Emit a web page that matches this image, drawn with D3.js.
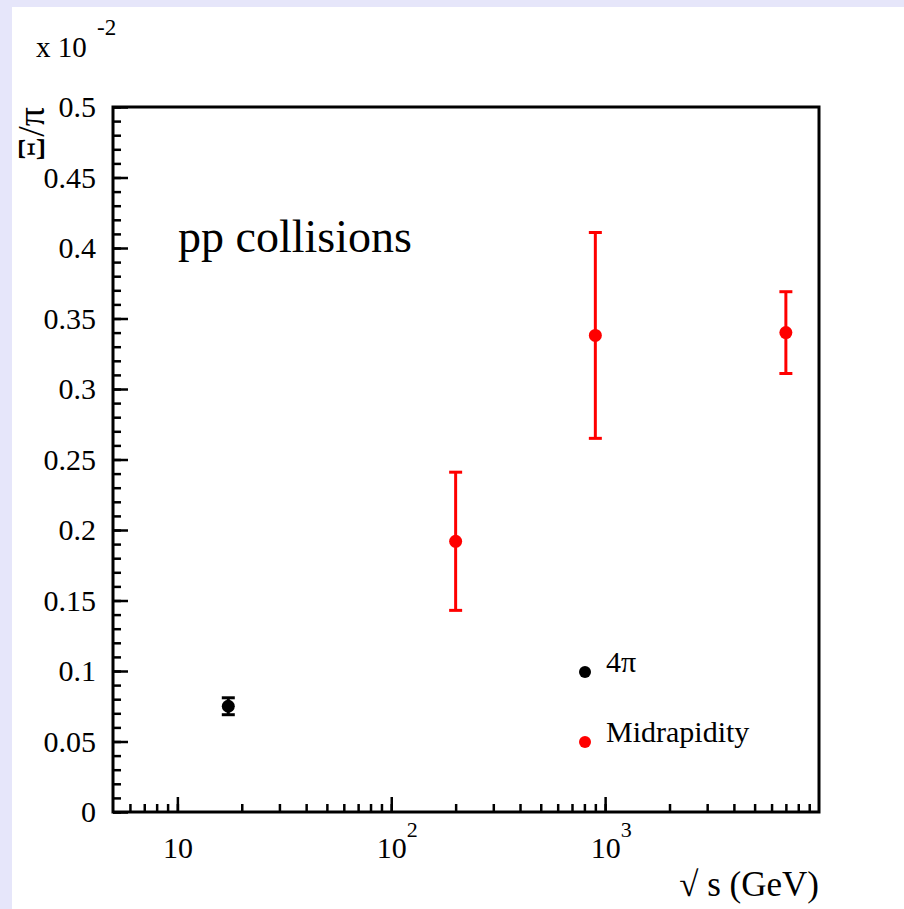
<!DOCTYPE html>
<html>
<head>
<meta charset="utf-8">
<script src="https://cdn.jsdelivr.net/npm/d3@7"></script>
<style>
  html, body { margin: 0; padding: 0; background: #e6e6fa; }
  svg { display: block; }
  text { font-family: "Liberation Serif", "Times New Roman", serif; fill: #000; }
</style>
</head>
<body>
<svg id="chart" width="904" height="909"></svg>
<script>
// ---- data ----
const blackEnergy = [17.3];
const blackValue = [0.075];
const blackError = [0.006];

const redEnergy = [200, 900, 7000];
const redValue = [0.192, 0.338, 0.340];
const redError = [0.049, 0.073, 0.029];

const xMajorTicks = [10, 100, 1000];
const xTickLabels = [["10", ""], ["10", "2"], ["10", "3"]];
const yTickValues = [0, 0.05, 0.1, 0.15, 0.2, 0.25, 0.3, 0.35, 0.4, 0.45, 0.5];
const yTickLabels = ["0", "0.05", "0.1", "0.15", "0.2", "0.25", "0.3", "0.35", "0.4", "0.45", "0.5"];

const legendLabels = ["4\u03c0", "Midrapidity"];
const legendColors = ["#000000", "#ff0000"];

// ---- layout ----
const svg = d3.select("#chart");
svg.append("rect").attr("x", 12).attr("y", 7).attr("width", 892).attr("height", 902).attr("fill", "#ffffff");

const L = 113, R = 819, T = 107, B = 812;
const x = d3.scaleLog().domain([5, 10000]).range([L, R]);
const y = d3.scaleLinear().domain([0, 0.5]).range([B, T]);

// y minor ticks
const yMinor = d3.range(0, 51).map(d => d / 100);
svg.append("g").attr("transform", `translate(${L},0)`)
  .call(d3.axisLeft(y).tickValues(yMinor).tickSize(-8).tickFormat(""))
  .call(g => g.select(".domain").remove())
  .call(g => g.selectAll("line").attr("stroke-width", 2.5));

// y major ticks with labels
svg.append("g").attr("transform", `translate(${L},0)`)
  .call(d3.axisLeft(y).tickValues(yTickValues).tickSize(-15).tickPadding(17)
    .tickFormat((d, i) => yTickLabels[i]))
  .call(g => g.select(".domain").remove())
  .call(g => g.selectAll("line").attr("stroke-width", 2.5))
  .call(g => g.selectAll("text").attr("font-size", 30).attr("font-family", "Liberation Serif"));

// x minor ticks
const xMinor = x.ticks().filter(d => d > 5 && d < 10000);
svg.append("g").attr("transform", `translate(0,${B})`)
  .call(d3.axisBottom(x).tickValues(xMinor).tickSize(-8).tickFormat(""))
  .call(g => g.select(".domain").remove())
  .call(g => g.selectAll("line").attr("stroke-width", 2.5));

// x major ticks
const xAx = svg.append("g").attr("transform", `translate(0,${B})`)
  .call(d3.axisBottom(x).tickValues(xMajorTicks).tickSize(-15).tickFormat((d, i) => xTickLabels[i][0]))
  .call(g => g.select(".domain").remove())
  .call(g => g.selectAll("line").attr("stroke-width", 2.5));
xAx.selectAll(".tick text")
  .attr("font-size", 30).attr("font-family", "Liberation Serif")
  .attr("y", 46).attr("dy", 0);
xAx.selectAll(".tick").each(function(d, i) {
  if (xTickLabels[i][1]) {
    d3.select(this).append("text")
      .attr("x", 15).attr("y", 25)
      .attr("font-size", 22).attr("font-family", "Liberation Serif")
      .attr("text-anchor", "start").attr("fill", "#000")
      .text(xTickLabels[i][1]);
  }
});

// frame
svg.append("rect").attr("x", L).attr("y", T).attr("width", R - L).attr("height", B - T)
  .attr("fill", "none").attr("stroke", "#000").attr("stroke-width", 3);

// error bars + points
function drawSeries(xs, vs, es, color) {
  const g = svg.append("g");
  xs.forEach((e, i) => {
    const cx = x(e), y1 = y(vs[i] + es[i]), y0 = y(vs[i] - es[i]);
    g.append("line").attr("x1", cx).attr("x2", cx).attr("y1", y1).attr("y2", y0)
      .attr("stroke", color).attr("stroke-width", 3);
    [y1, y0].forEach(yy => g.append("line").attr("x1", cx - 6.5).attr("x2", cx + 6.5)
      .attr("y1", yy).attr("y2", yy).attr("stroke", color).attr("stroke-width", 3));
    g.append("circle").attr("cx", cx).attr("cy", y(vs[i])).attr("r", 6.5).attr("fill", color);
  });
}
drawSeries(blackEnergy, blackValue, blackError, "#000000");
drawSeries(redEnergy, redValue, redError, "#ff0000");

// legend
legendLabels.forEach((lab, i) => {
  const ly = 672 + i * 70;
  svg.append("circle").attr("cx", 585).attr("cy", ly).attr("r", 6).attr("fill", legendColors[i]);
  svg.append("text").attr("x", 606).attr("y", ly).attr("font-size", 30).text(lab);
});

// texts
svg.append("text").attr("x", 178).attr("y", 252).attr("font-size", 46).text("pp collisions");

svg.append("text").attr("x", 36).attr("y", 57).attr("font-size", 29).text("x 10");
svg.append("text").attr("x", 97).attr("y", 35).attr("font-size", 23).text("-2");

svg.append("text").attr("transform", "translate(44,107) rotate(-90)")
  .attr("text-anchor", "end").attr("font-size", 38).text("\u039e/\u03c0");

svg.append("text").attr("x", 819).attr("y", 896).attr("text-anchor", "end")
  .attr("font-size", 35).text("\u221a s (GeV)");
</script>
</body>
</html>
